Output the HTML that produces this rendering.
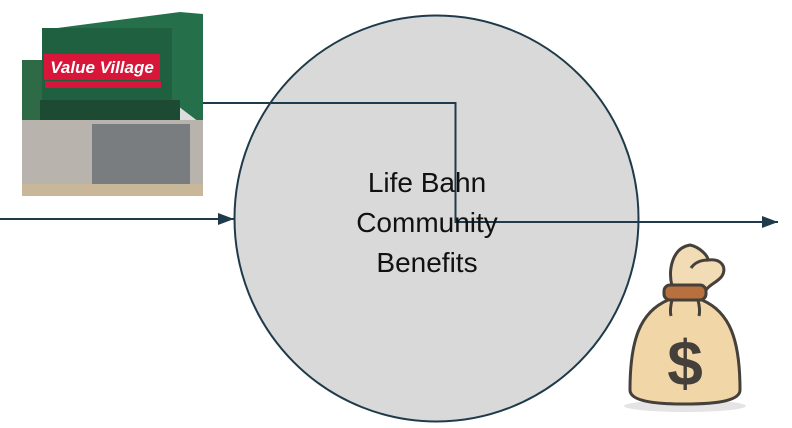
<!DOCTYPE html>
<html><head><meta charset="utf-8"><style>
html,body{margin:0;padding:0;background:#fff;}
body{width:792px;height:428px;overflow:hidden;position:relative;}
</style></head><body>
<svg width="792" height="428" viewBox="0 0 792 428" xmlns="http://www.w3.org/2000/svg" style="position:absolute;left:0;top:0">
<defs>
<marker id="ah2" markerWidth="16" markerHeight="12" refX="16" refY="6" orient="auto" markerUnits="userSpaceOnUse"><path d="M0,0 L16,6 L0,12 z" fill="#1f3a4a"/></marker>
</defs>
<ellipse cx="436.5" cy="218.5" rx="202" ry="203" fill="#d9d9d9" stroke="#1f3a4a" stroke-width="2"/>
<g>
<rect x="22" y="60" width="181" height="136" fill="#ddd"/>
<polygon points="22,60 42,60 42,132 22,132" fill="#2e6a45"/>
<polygon points="42,30 180,12 203,14 203,125 170,100 42,100" fill="#25704a"/>
<rect x="42" y="28" width="130" height="75" fill="#1f6040"/>
<rect x="40" y="100" width="140" height="20" fill="#1c4a33"/>
<rect x="22" y="120" width="181" height="66" fill="#b8b4ad"/>
<rect x="92" y="124" width="98" height="62" fill="#7a7d80"/>
<rect x="22" y="184" width="181" height="12" fill="#c9b79a"/>
<rect x="44" y="54" width="116" height="26" fill="#d8163a"/>
<text x="102" y="73" font-family="Liberation Sans, sans-serif" font-size="17" font-weight="bold" font-style="italic" fill="#fff" text-anchor="middle">Value Village</text>
<rect x="45" y="81" width="116" height="7" fill="#d8163a"/>
</g>
<path d="M203,103 L455.5,103 L455.5,222 L778,222" fill="none" stroke="#1f3a4a" stroke-width="2" marker-end="url(#ah2)"/>
<path d="M0,219 L234,219" fill="none" stroke="#1f3a4a" stroke-width="2" marker-end="url(#ah2)"/>
<g font-family="Liberation Sans, sans-serif" font-size="28" fill="#111" text-anchor="middle">
<text x="427" y="192">Life Bahn</text>
<text x="427" y="232">Community</text>
<text x="427" y="272">Benefits</text>
</g>
<ellipse cx="685" cy="406" rx="61" ry="6" fill="#e4e4e4"/>
<path d="M672,286 C668,270 672,248 690,245 C700,247 708,256 708,260 C722,258 727,268 722,276 C718,282 710,284 706,290 Z" fill="#f2dcb5" stroke="#45403a" stroke-width="3"/>
<path d="M691,268 C695,262 702,260 708,260" fill="none" stroke="#45403a" stroke-width="3"/>
<path d="M668,300 C640,312 630,340 630,390 C630,400 650,404 685,404 C720,404 740,400 740,390 C740,340 730,312 702,300 Z" fill="#f1d6a8" stroke="#45403a" stroke-width="3"/>
<rect x="664" y="285" width="42" height="15" rx="6" fill="#b8703e" stroke="#45403a" stroke-width="3"/>
<path d="M672,300 C670,308 670,312 671,316 M698,300 C700,308 700,312 699,316" fill="none" stroke="#45403a" stroke-width="3"/>
<text x="685" y="385" font-family="Liberation Sans, sans-serif" font-size="64" font-weight="bold" fill="#45403a" text-anchor="middle">$</text>
</svg>
</body></html>
